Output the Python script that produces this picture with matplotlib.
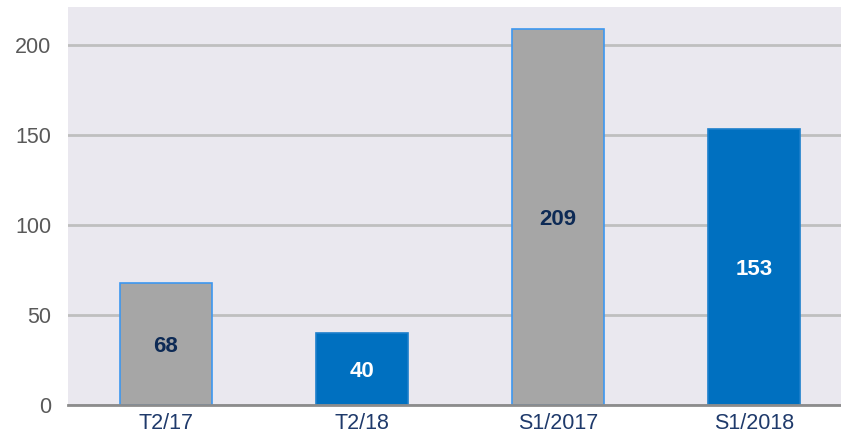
import matplotlib
matplotlib.use("Agg")
import matplotlib.pyplot as plt

categories = ["T2/17", "T2/18", "S1/2017", "S1/2018"]
values = [68, 40, 209, 153]
bar_colors = ["#A6A6A6", "#0070C0", "#A6A6A6", "#0070C0"]
edge_colors = ["#3D97F0", "#1C7FCC", "#3D97F0", "#1C7FCC"]
label_colors = ["#0D2A55", "white", "#0D2A55", "white"]
yticks = [0, 50, 100, 150, 200]

plt.rcParams['font.family'] = ['Liberation Sans', 'DejaVu Sans']

fig = plt.figure(figsize=(8.41, 4.42), dpi=100)
ax = fig.add_axes([68 / 841, 37 / 442, 1 - 68 / 841, 398 / 442])
ax.set_facecolor("#EAE8EF")

x = list(range(len(categories)))
bars = ax.bar(x, values, width=0.47, color=bar_colors, edgecolor=edge_colors,
              linewidth=1.2, zorder=3)
for b, v, c in zip(bars, values, label_colors):
    ax.text(b.get_x() + b.get_width() / 2, v / 2 - 1.5, str(v), ha="center", va="center",
            fontsize=16, fontweight="bold", color=c, zorder=4)

ax.set_xlim(-0.5, 3.444)
ax.set_ylim(0, 221)
ax.set_yticks(yticks)
ax.set_xticks(x)
ax.set_xticklabels(categories)
ax.grid(axis="y", color="#BFBFBF", linewidth=2, zorder=1)
ax.set_axisbelow(True)
for s in ["top", "right", "left"]:
    ax.spines[s].set_visible(False)
ax.spines["bottom"].set_color("#8C8C8C")
ax.spines["bottom"].set_linewidth(2)
ax.spines["bottom"].set_zorder(5)
ax.tick_params(axis="both", length=0, labelsize=15.5)
ax.tick_params(axis="y", colors="#595959", pad=12)
ax.tick_params(axis="x", colors="#1F3A6B", pad=6)

fig.savefig("out.png", dpi=100)
